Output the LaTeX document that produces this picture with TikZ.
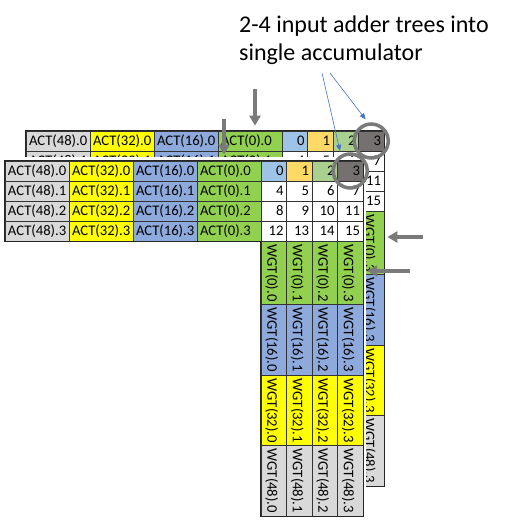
\documentclass[tikz,border=0pt]{standalone}
\usepackage{fontspec}
\setmainfont{Carlito}
\usetikzlibrary{arrows.meta}

\definecolor{cellGray}{HTML}{D9D9D9}
\definecolor{cellYellow}{HTML}{FFFF00}
\definecolor{cellBlue}{HTML}{8EA9DB}
\definecolor{cellGreen}{HTML}{92D050}
\definecolor{numBlue}{HTML}{9DC3E6}
\definecolor{numGold}{HTML}{FFD966}
\definecolor{numGreen}{HTML}{A9D08E}
\definecolor{numDark}{HTML}{767171}
\definecolor{markGray}{HTML}{7A7A7A}
\definecolor{noteBlue}{HTML}{4472C4}

\newcommand{\cellFont}{\fontsize{14.67}{17}\selectfont}

% one ACT/WGT grid: prefix, left, top
\newcommand{\mulGrid}[3]{%
  \foreach \col/\val/\clr in {0/48/cellGray,1/32/cellYellow,2/16/cellBlue,3/0/cellGreen} {
    \foreach \r in {0,...,3} {
      \node[actCell, fill=\clr] (#1Act\r\col) at ({#2+64*\col+32},{#3+20*\r+10}) {ACT(\val).\r};
    }
  }
  \foreach \col/\clr in {0/numBlue,1/numGold,2/numGreen,3/numDark} {
    \node[numCell, fill=\clr] (#1Num0\col) at ({#2+256+25.5*\col+12.75},{#3+10}) {\col};
  }
  \foreach \r in {1,2,3} {
    \foreach \col in {0,...,3} {
      \pgfmathtruncatemacro{\cnt}{4*\r+\col}
      \node[numCell, fill=white] (#1Num\r\col) at ({#2+256+25.5*\col+12.75},{#3+20*\r+10}) {\cnt};
    }
  }
  \foreach \blk/\val/\wtop/\wh/\clr in {0/0/80/63/cellGreen,1/16/143/71/cellBlue,2/32/214/70/cellYellow,3/48/284/71/cellGray} {
    \foreach \col in {0,...,3} {
      \node[wgtCell, fill=\clr, minimum height=\wh] (#1Wgt\blk\col) at ({#2+256+25.5*\col+12.75},{#3+\wtop+\wh/2}) {};
      \node[wgtText] (#1WgtText\blk\col) at ([xshift=-2pt,yshift=-4pt]#1Wgt\blk\col.north) {WGT(\val).\col};
    }
  }
  \draw[gridEdge] (#1Act00.north west) -- (#1Num03.north east) -- (#1Wgt33.south east)
    -- (#1Wgt30.south west) -- (#1Num30.south west) -- (#1Act30.south west) -- cycle;
}

\begin{document}
\begin{tikzpicture}
    [x=1pt, y=-1pt,
     actCell/.style={rectangle, draw=black!80, line width=0.7pt,
                     minimum height=20pt, text width=58pt,
                     inner xsep=3pt, inner ysep=0pt, align=left, font=\cellFont},
     numCell/.style={rectangle, draw=black!80, line width=0.7pt,
                     minimum height=20pt, text width=19.5pt,
                     inner xsep=3pt, inner ysep=0pt, align=right, font=\cellFont},
     wgtCell/.style={rectangle, draw=black!80, line width=0.7pt,
                     minimum width=25.5pt, inner sep=0pt},
     wgtText/.style={rotate=-90, anchor=west, inner sep=0pt, font=\cellFont},
     gridEdge/.style={draw=black!85, line width=1.4pt},
     ring/.style={circle, draw=markGray, line width=3.5pt, minimum size=34pt, inner sep=0pt},
     markArrow/.style={draw=markGray, line width=4pt, -{Triangle[width=11pt,length=10pt]}},
     noteArrow/.style={draw=noteBlue, line width=0.6pt, -{Triangle[width=5pt,length=6pt]}},
     noteText/.style={align=left, inner sep=0pt, font=\fontsize{24}{28}\selectfont}]

    \useasboundingbox (0,0) rectangle (510,520);

    \mulGrid{back}{26}{131}
    \fill[white] (1,157) rectangle (366,520);
    \mulGrid{front}{5}{161}

    \node[ring] (backRing) at (backNum03) {};
    \node[ring] (frontRing) at (frontNum03) {};

    \coordinate (backTap) at (255,89);
    \coordinate (frontTap) at (224,119);
    \coordinate (backWgtTap) at (423,237);
    \coordinate (backSeamTap) at (410,271);

    \draw[markArrow, shorten >=5pt] (backTap) -- (backTap |- backAct03.north);
    \draw[markArrow, shorten >=6pt] (frontTap) -- (frontTap |- frontAct03.north);
    \draw[markArrow, shorten >=3pt] (backWgtTap) -- (backWgtTap -| backWgt03.east);
    \draw[markArrow, shorten >=9pt] (backSeamTap) -- (backSeamTap -| backWgt03.west);

    \node[noteText, anchor=base west] (adderNote) at (239,60) {2-4 input adder trees into\\single accumulator};

    \coordinate (noteFootA) at (322,73);
    \coordinate (noteFootB) at (330,73);
    \draw[noteArrow, shorten >=4pt] (noteFootA) -- (frontRing.120);
    \draw[noteArrow, shorten >=4pt] (noteFootB) -- (backRing.100);
\end{tikzpicture}
\end{document}
